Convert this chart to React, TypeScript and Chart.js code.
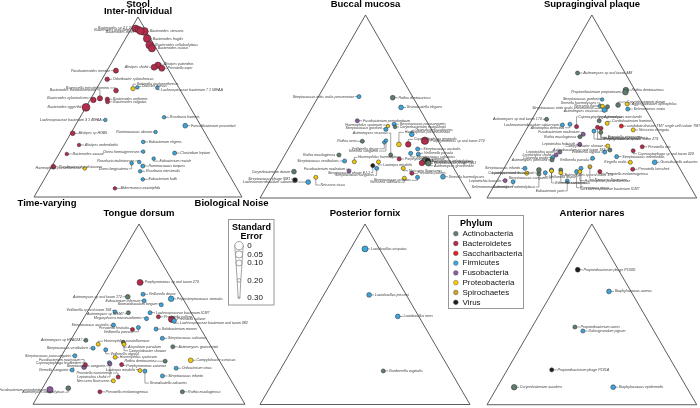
import React, { useEffect, useRef } from "react";
import { Chart, registerables } from "chart.js";

Chart.register(...registerables);

const FONT = "'Liberation Sans', Arial, Helvetica, sans-serif";

// ---------- categories / legend ----------
const PHYLA = ["Actinobacteria", "Bacteroidetes", "Saccharibacteria", "Firmicutes", "Fusobacteria", "Proteobacteria", "Spirochaetes", "Virus"];
const PHYLUM_COLORS = ["#5f7d6c", "#b52b4b", "#e41f26", "#3ba6dc", "#8b5b9c", "#f3c90a", "#c9a12c", "#1f1f1f"];
const SE_TICKS = [0, 0.05, 0.1, 0.2, 0.3];
const SE_TICK_LABELS = ["0", "0.05", "0.10", "0.20", "0.30"];
const PANEL_TITLES = ["Stool", "Buccal mucosa", "Supragingival plaque", "Tongue dorsum", "Posterior fornix", "Anterior nares"];
const VERTEX_TITLES = ["Inter-individual", "Time-varying", "Biological Noise"];

// phylum index: 0 Actino, 1 Bacteroidetes, 2 Saccharibacteria, 3 Firmicutes, 4 Fusobacteria, 5 Proteobacteria, 6 Spirochaetes, 7 Virus
// values: % inter-individual, % biological noise (time-varying = remainder), standard error

// ---------- Stool ----------
const stoolTaxa = ["Bacteroides stercoris", "Bacteroides sp 2 1 22", "Bacteroides massiliensis", "Bacteroides dorei", "Bacteroides fragilis", "Bacteroides cellulosilyticus", "Bacteroides ovatus", "Alistipes putredinis", "Alistipes shahii", "Prevotella copri", "Parabacteroides merdae", "Odoribacter splanchnicus", "Sutterella wadsworthensis", "Dialister invisus", "Lachnospiraceae bacterium 7 1 58FAA", "Barnesiella intestinihominis", "Bacteroides thetaiotaomicron", "Bacteroides uniformis", "Bacteroides vulgatus", "Bacteroides xylanisolvens", "Bacteroides eggerthii", "Lachnospiraceae bacterium 3 1 46FAA", "Roseburia hominis", "Faecalibacterium prausnitzii", "Alistipes sp HGB5", "Ruminococcus obeum", "Alistipes onderdonkii", "Eubacterium eligens", "Bacteroides caccae", "Dorea formicigenerans", "Clostridium leptum", "Eubacterium rectale", "Roseburia inulinivorans", "Ruminococcus torques", "Dorea longicatena", "Roseburia intestinalis", "Parabacteroides distasonis", "Haemophilus parainfluenzae", "Eubacterium hallii", "Akkermansia muciniphila"];
const stoolPhylum = [1, 1, 1, 1, 1, 1, 1, 1, 1, 1, 1, 1, 5, 3, 3, 1, 1, 1, 1, 1, 1, 3, 3, 3, 1, 3, 1, 3, 1, 3, 3, 3, 3, 3, 3, 3, 1, 5, 3, 1];
const stoolInter = [92, 93.6, 93, 92.2, 88, 84.4, 82.6, 73.2, 72.1, 71.5, 70.2, 65.4, 60.2, 60.9, 60.7, 59.1, 54.8, 54.3, 52.9, 53.9, 49.8, 42.8, 44.3, 39.6, 35.4, 36.1, 28.9, 30.6, 23.9, 25.2, 24.4, 21.3, 19.4, 17.2, 18.7, 14.3, 16.8, 15.9, 9.8, 4.8];
const stoolNoise = [7, 2, 3.7, 5.1, 10.4, 13.4, 15.4, 23, 21.7, 25.7, 4.3, 2.5, 17.5, 19.2, 28.9, 9.9, 4.3, 8.1, 8.9, 1.6, 0.1, 12.9, 40.4, 52.9, 0.9, 40.4, 7.2, 37.2, 3.8, 39.9, 55.4, 46.9, 40.9, 43.7, 37.6, 43.9, 0.9, 16.5, 47.4, 36.5];
const stoolSE = [0.02, 0.06, 0.08, 0.05, 0.03, 0.03, 0.05, 0.08, 0.1, 0.1, 0.14, 0.16, 0.17, 0.2, 0.2, 0.15, 0.13, 0.17, 0.18, 0.12, 0.02, 0.2, 0.2, 0.15, 0.15, 0.2, 0.2, 0.2, 0.2, 0.2, 0.18, 0.2, 0.2, 0.18, 0.2, 0.2, 0.15, 0.2, 0.2, 0.2];

// ---------- Buccal mucosa ----------
const buccalTaxa = ["Streptococcus mitis oralis pneumoniae", "Rothia dentocariosa", "Granulicatella elegans", "Fusobacterium periodonticum", "Streptococcus parasanguinis", "Corynebacterium matruchotii", "Haemophilus sputorum", "Streptococcus gordonii", "Actinomyces viscosus", "Rothia aeria", "Veillonella dispar", "Gemella sanguinis", "Granulicatella adiacens", "Haemophilus parainfluenzae", "Capnocytophaga gingivalis", "Porphyromonas sp oral taxon 279", "Streptococcus australis", "Streptococcus salivarius", "Veillonella parvula", "Actinomyces odontolyticus", "Prevotella melaninogenica", "Streptococcus phage Cp-1", "Actinomyces graevenitzii", "Haemophilus haemolyticus", "Porphyromonas catoniae", "Rothia mucilaginosa", "Streptococcus vestibularis", "Lautropia mirabilis", "Neisseria flavescens", "Prevotella pallens", "Fusobacterium nucleatum", "Streptococcus phage EJ-1", "Streptococcus sanguinis", "Corynebacterium durum", "Streptococcus phage SM1", "Lachnoanaerobaculum saburreum", "Neisseria sicca", "Neisseria subflava", "Streptococcus cristatus", "Gemella haemolysans"];
const buccalPhylum = [3, 0, 3, 4, 3, 0, 5, 3, 0, 0, 3, 3, 3, 5, 1, 1, 3, 3, 3, 0, 1, 7, 0, 5, 1, 0, 3, 5, 5, 1, 4, 7, 3, 0, 7, 3, 5, 5, 3, 3];
const buccalInter = [55.4, 54.8, 49.5, 42.2, 40.3, 38.8, 39.3, 37.5, 23.5, 31, 30.4, 31.4, 34.8, 29.3, 29.3, 31.3, 26.8, 24.4, 23.9, 20.4, 19.1, 20.2, 19, 19.8, 21.3, 23.5, 20.2, 19.7, 16.2, 13.5, 14.8, 17.7, 16.2, 14.4, 9.8, 8.7, 11.3, 10.8, 11.3, 11.6];
const buccalNoise = [19.2, 35.5, 42.1, 25, 43.4, 44.6, 41, 40.9, 50.2, 33, 43.7, 44, 54.5, 51.2, 55.6, 62.5, 61.3, 59.2, 63.1, 68.1, 67.2, 69.5, 70.3, 34.8, 55.3, 25.7, 30, 46.3, 59.8, 65.2, 34.8, 44.6, 47.2, 8.9, 11.7, 18.5, 20.8, 63, 69, 80.9];
const buccalSE = [0.18, 0.15, 0.15, 0.18, 0.18, 0.2, 0.2, 0.18, 0.18, 0.18, 0.2, 0.2, 0.15, 0.15, 0.12, 0.04, 0.18, 0.18, 0.18, 0.06, 0.12, 0.12, 0.12, 0.18, 0.18, 0.18, 0.18, 0.18, 0.18, 0.18, 0.18, 0.18, 0.18, 0.15, 0.15, 0.15, 0.18, 0.18, 0.18, 0.15];

// ---------- Supragingival plaque ----------
const supraTaxa = ["Actinomyces sp oral taxon 448", "Rothia dentocariosa", "Propionibacterium propionicum", "Streptococcus gordonii", "Gemella haemolysans", "Neisseria flava", "Streptococcus mitis oralis pneumoniae", "Actinomyces viscosus", "Corynebacterium durum", "Aggregatibacter aphrophilus", "Selenomonas noxia", "Actinomyces sp oral taxon 170", "Lachnoanaerobaculum saburreum", "Abiotrophia defectiva", "Capnocytophaga granulosa", "Actinomyces naeslundii", "Cardiobacterium hominis", "Porphyromonas sp oral taxon 279", "Prevotella nigrescens", "candidate division TM7 single cell isolate TM7c", "Neisseria elongata", "Fusobacterium nucleatum", "Rothia mucilaginosa", "Streptococcus cristatus", "Actinomyces massiliensis", "Prevotella oris", "Capnocytophaga sp oral taxon 329", "Streptococcus intermedius", "Kingella oralis", "Granulicatella adiacens", "Prevotella loescheii", "Leptotrichia hofstadii", "Actinobaculum sp oral taxon 183", "Leptotrichia wadei", "Leptotrichia shahii", "Catonella morbi", "Actinomyces johnsonii", "Streptococcus infantis", "Lautropia mirabilis", "Leptotrichia buccalis", "Selenomonas artemidis", "Veillonella parvula", "Actinomyces odontolyticus", "Corynebacterium matruchotii", "Streptococcus sanguinis", "Eikenella corrodens", "Veillonella dispar", "Actinomyces sp oral taxon 175", "Neisseria sicca", "Eubacterium yurii", "Parvimonas micra", "Lachnospiraceae bacterium ICM7", "Haemophilus parainfluenzae", "Neisseria flavescens", "Prevotella melaninogenica", "Campylobacter showae", "Veillonella atypica"];
const supraPhylum = [0, 0, 0, 3, 3, 5, 3, 0, 0, 5, 3, 0, 3, 3, 1, 0, 5, 1, 1, 2, 5, 4, 0, 3, 0, 1, 1, 3, 5, 3, 1, 4, 0, 4, 4, 3, 0, 3, 5, 4, 3, 3, 0, 0, 3, 5, 3, 0, 5, 3, 3, 3, 5, 6, 1, 5, 3];
const supraInter = [68.3, 59, 57.8, 53.8, 50.3, 50.1, 48.1, 49.9, 50.8, 51.4, 48.6, 43, 39.9, 40.3, 39, 42.2, 40.8, 38.6, 38.1, 39.3, 37.2, 34.8, 33.5, 36.6, 35.9, 28, 25.8, 22.6, 19.5, 19.5, 15.7, 29.3, 26.2, 25.1, 23.5, 22.1, 20.8, 16.2, 13.5, 9.5, 8.9, 21.7, 13.1, 15.3, 15.3, 14.8, 13.8, 15.3, 13.8, 9.3, 14.4, 16.2, 14.4, 17.1, 14.4, 28.4, 25.1];
const supraNoise = [9, 36.7, 37.1, 28, 28.7, 30, 31.9, 32.5, 37.1, 41.1, 42.8, 6.9, 16, 19.4, 23.2, 32.4, 36.9, 33.4, 35.3, 44.4, 51.1, 28.5, 27.6, 32.7, 36.3, 60, 56.8, 50.5, 58.6, 70.2, 61.6, 29.6, 45.5, 22.2, 21.2, 20.3, 20.6, 10, 12.2, 3.9, 8, 39.5, 18.2, 17.1, 23.1, 23.4, 20.9, 27.5, 28.3, 33.6, 35.5, 36.7, 37.1, 40.5, 46.6, 43.4, 43.6];
const supraSE = [0.18, 0.12, 0.12, 0.2, 0.2, 0.18, 0.15, 0.18, 0.15, 0.18, 0.18, 0.18, 0.18, 0.18, 0.18, 0.18, 0.18, 0.18, 0.18, 0.18, 0.18, 0.18, 0.18, 0.18, 0.18, 0.18, 0.18, 0.18, 0.18, 0.15, 0.18, 0.18, 0.18, 0.18, 0.18, 0.18, 0.18, 0.18, 0.18, 0.18, 0.18, 0.18, 0.18, 0.15, 0.18, 0.18, 0.18, 0.18, 0.18, 0.18, 0.18, 0.18, 0.18, 0.18, 0.18, 0.18, 0.18];

// ---------- Tongue dorsum ----------
const tongueTaxa = ["Porphyromonas sp oral taxon 279", "Veillonella dispar", "Peptostreptococcus stomatis", "Actinomyces sp oral taxon 172", "Eubacterium infirmum", "Stomatobaculum longum", "Veillonella sp oral taxon 158", "Actinomyces sp ICM47", "Megasphaera micronuciformis", "Lachnospiraceae bacterium ICM7", "Prevotella pallens", "Prevotella salivae", "Lachnospiraceae bacterium oral taxon 082", "Streptococcus australis", "Prevotella histicola", "Veillonella parvula", "Solobacterium moorei", "Actinomyces sp HPA0247", "Streptococcus salivarius", "Haemophilus parainfluenzae", "Atopobium parvulum", "Campylobacter showae", "Streptococcus vestibularis", "Actinomyces graevenitzii", "Veillonella atypica", "Haemophilus sputorum", "Rothia dentocariosa", "Campylobacter concisus", "Streptococcus parasanguinis", "Fusobacterium nucleatum", "Capnocytophaga leadbetteri", "Gemella sanguinis", "Streptococcus sanguinis", "Leptotrichia shahii", "Porphyromonas catoniae", "Lautropia mirabilis", "Granulicatella adiacens", "Oribacterium sinus", "Prevotella nanceiensis", "Streptococcus infantis", "Neisseria flavescens", "Fusobacterium periodonticum", "Actinomyces odontolyticus", "Prevotella melaninogenica", "Rothia mucilaginosa"];
const tonguePhylum = [1, 3, 3, 0, 3, 3, 3, 0, 3, 3, 1, 1, 3, 3, 1, 3, 3, 0, 3, 5, 0, 5, 3, 0, 3, 5, 0, 5, 3, 4, 1, 3, 3, 4, 1, 5, 3, 3, 1, 3, 5, 4, 0, 1, 0];
const tongueInter = [67.6, 61, 58.5, 59.6, 57.4, 55.2, 51.2, 50.8, 47.5, 50.8, 48.5, 47.2, 46.3, 43.9, 41.5, 42.6, 41.7, 35.5, 36.6, 33.3, 34.4, 33.3, 31.1, 31.9, 30.2, 26.1, 23.9, 24.4, 26.9, 20.6, 21.9, 19, 23, 22.4, 22, 18.7, 18.4, 20, 15.1, 15.7, 13, 8, 8.9, 6.9, 6.9];
const tongueNoise = [16.7, 21.4, 35.9, 14.9, 23.7, 32.9, 13.1, 19.6, 29.8, 29.8, 34.9, 41.8, 43.4, 16, 26.2, 28.4, 37.2, 7.2, 42.7, 14.1, 25.4, 26.3, 12.8, 50, 19.2, 25.7, 50.4, 62.2, 6.3, 13.8, 13.8, 9, 24.5, 25.1, 30.8, 41.1, 43.6, 57.5, 32.6, 53.2, 31.4, 4, 12.2, 28.1, 67];
const tongueSE = [0.1, 0.18, 0.12, 0.15, 0.18, 0.18, 0.18, 0.18, 0.18, 0.18, 0.18, 0.08, 0.15, 0.18, 0.18, 0.18, 0.18, 0.18, 0.18, 0.18, 0.18, 0.18, 0.18, 0.18, 0.18, 0.18, 0.18, 0.15, 0.18, 0.15, 0.18, 0.18, 0.18, 0.18, 0.18, 0.18, 0.18, 0.18, 0.18, 0.18, 0.18, 0.08, 0.15, 0.18, 0.18];

// ---------- Posterior fornix ----------
const fornixTaxa = ["Lactobacillus crispatus", "Lactobacillus jensenii", "Lactobacillus iners", "Gardnerella vaginalis"];
const fornixPhylum = [3, 3, 3, 0];
const fornixInter = [86.2, 60.7, 48.8, 18.6];
const fornixNoise = [6.9, 21.6, 41.2, 49.4];
const fornixSE = [0.1, 0.15, 0.15, 0.18];

// ---------- Anterior nares ----------
const naresTaxa = ["Propionibacterium phage P100D", "Staphylococcus aureus", "Propionibacterium acnes", "Dolosigranulum pigrum", "Propionibacterium phage P101A", "Corynebacterium accolens", "Staphylococcus epidermidis"];
const naresPhylum = [7, 3, 0, 3, 7, 0, 3];
const naresInter = [74.7, 62.7, 43, 40.8, 19.3, 9.7, 9.7];
const naresNoise = [5.9, 26.8, 20.4, 25.3, 21.2, 8.1, 55.3];
const naresSE = [0.15, 0.15, 0.18, 0.18, 0.18, 0.12, 0.15];

// ---------- layout (label offsets in px, panel frames) ----------
const stoolLabelOffsets = [[5, 0], [-2, -0.5], [-4, 0], [-6, 0.5], [5, 0], [5, 0], [5, 0], [5, -1], [-5, 0], [5, 0], [-5, 0], [5, 0], [3, -4.5], [4, -1], [3, 2], [-6, -2.7], [-3, -8.6], [5, 0], [5, 0], [-4, -2.3], [-4, 0], [-3, 0], [5, 0], [5, 0], [5, 0], [-3, 0], [5, 0], [5, 0], [5, 0], [-3, 0], [5, 0], [5, 2.5], [-4, -1.3], [5, 0], [-3, 5.5], [5, 0], [5, 0], [-3, 0], [5, 0], [5, 0]];
const buccalLabelOffsets = [[-4, 0], [5, 0], [5, 0], [5, 0], [5, 0], [4, 0], [-5, -1], [-3, -1], [-2, -22], [-5, 0], [-5, 6.4], [-7, 10.5], [3, -4], [5, -12], [5, -5], [5, 0], [5, 0], [5, 3.5], [5, -1], [5, 0], [9, -1], [5, 2.3], [5, 2.5], [3, -4.4], [5, 0], [-3, 0], [-5, 0], [4, 3], [5, 2.4], [5, 0], [-3, -1.7], [-2, 7], [-2, 7], [-3, 0], [-4, -1], [-10, 0], [4, 7.7], [-4, 4], [-6, 3], [5, 0]];
const supraLabelOffsets = [[5, 0], [5, 0], [-4, 0], [-2, -0.5], [-3, -3], [-4, 0], [-10, -1.5], [-8, 4.5], [8, -3], [4, 0], [5, 0], [-4, 0], [-3, 0], [-5, 3.5], [1, -10], [4, -4], [4, -2], [6, 12], [6, 9], [5, 0], [5, 0], [-3, -2], [-3, 0], [8, 8], [6, 6], [5, 0], [4, 3], [5, 0], [-3, 0], [5, 0], [5, 0], [-4, 0], [-4, 0], [-4, 0], [-4, 0], [-4, 0], [-4, 0], [-4, 0], [-5, 0], [-3, 0], [-3, 5], [-3, 1.5], [-3, 13], [-4, 3], [-3, 8], [3, 12], [3, 4], [3, 5], [4, 10], [-3, 10], [3, 16], [4, 21], [4, 9], [4, 13], [5, 2], [-4, 0], [-4, 0]];
const tongueLabelOffsets = [[4, 0], [5, 0], [5, 0], [-5, 0], [-3, 0], [-3, -1], [-3, -1.5], [-4, 1], [-4, -1], [5, 0], [5, 0], [5, 0], [5, 2.4], [-4, 0], [-3, -1], [-5, 4.3], [5, 0], [-3, 0], [5, 0], [5, -3], [4, 5], [4, 6.5], [-4, 0], [5, 0], [4, 4], [4, 0], [-8, 0], [5, 0], [-3, 0], [-3, -7.6], [-4, -2], [-3, 0], [-3, 3], [-3, 13], [4, 1], [-4, -1], [4, 12], [5, 0], [-5, -4], [5, 0], [-3, 0], [-3, 0], [-3, 4], [5, 0], [5, 0]];
const fornixLabelOffsets = [[5, 0], [5, 0], [5, 0], [5, 0]];
const naresLabelOffsets = [[5, 0], [5, 0], [5, 0], [5, 0], [5, 0], [5, 0], [5, 0]];

const panelFrames = [
  { left: 34, top: 17, width: 208, bottom: 197, titleY: 4 },
  { left: 260, top: 15, width: 211, bottom: 198, titleY: 4.5 },
  { left: 487, top: 15, width: 210, bottom: 198, titleY: 4.5 },
  { left: 33, top: 224, width: 212, bottom: 407, titleY: 213.5 },
  { left: 260, top: 224, width: 210, bottom: 407, titleY: 213 },
  { left: 487, top: 224, width: 210, bottom: 407, titleY: 213 },
];

const TRIANGLE = [{ x: 0, y: 0 }, { x: 1, y: 0 }, { x: 0.5, y: 1 }, { x: 0, y: 0 }];

type Panel = { taxa: string[]; phylum: number[]; inter: number[]; noise: number[]; se: number[]; offsets: number[][] };

const PANELS: Panel[] = [
  { taxa: stoolTaxa, phylum: stoolPhylum, inter: stoolInter, noise: stoolNoise, se: stoolSE, offsets: stoolLabelOffsets },
  { taxa: buccalTaxa, phylum: buccalPhylum, inter: buccalInter, noise: buccalNoise, se: buccalSE, offsets: buccalLabelOffsets },
  { taxa: supraTaxa, phylum: supraPhylum, inter: supraInter, noise: supraNoise, se: supraSE, offsets: supraLabelOffsets },
  { taxa: tongueTaxa, phylum: tonguePhylum, inter: tongueInter, noise: tongueNoise, se: tongueSE, offsets: tongueLabelOffsets },
  { taxa: fornixTaxa, phylum: fornixPhylum, inter: fornixInter, noise: fornixNoise, se: fornixSE, offsets: fornixLabelOffsets },
  { taxa: naresTaxa, phylum: naresPhylum, inter: naresInter, noise: naresNoise, se: naresSE, offsets: naresLabelOffsets },
];

function seRadius(se: number) {
  return Math.max(0.9, 4.2 - 12 * se);
}

function labelPlugin(p: Panel) {
  return {
    id: "taxonLabels",
    beforeDatasetsDraw(chart: any) {
      const ctx = chart.ctx;
      const meta = chart.getDatasetMeta(0);
      ctx.save();
      ctx.strokeStyle = "#333";
      ctx.lineWidth = 0.45;
      meta.data.forEach((el: any, i: number) => {
        const [dx, dy] = p.offsets[i] || [5, 0];
        ctx.beginPath();
        ctx.moveTo(el.x, el.y);
        if (Math.abs(dy) > 0.01) ctx.lineTo(el.x, el.y + dy);
        ctx.lineTo(el.x + dx, el.y + dy);
        ctx.stroke();
      });
      ctx.restore();
    },
    afterDatasetsDraw(chart: any) {
      const ctx = chart.ctx;
      const meta = chart.getDatasetMeta(0);
      ctx.save();
      ctx.fillStyle = "#3a3a3a";
      ctx.font = `italic 3.6px ${FONT}`;
      ctx.textBaseline = "middle";
      meta.data.forEach((el: any, i: number) => {
        const [dx, dy] = p.offsets[i] || [5, 0];
        const right = dx >= 0;
        ctx.textAlign = right ? "left" : "right";
        ctx.fillText(p.taxa[i], el.x + dx + (right ? 0.7 : -0.7), el.y + dy);
      });
      ctx.restore();
    },
  };
}

const decorPlugin = {
  id: "decor",
  afterDraw(chart: any) {
    const ctx = chart.ctx;
    ctx.save();
    ctx.fillStyle = "#000";
    ctx.textAlign = "center";
    ctx.textBaseline = "middle";
    ctx.font = `bold 9.5px ${FONT}`;
    PANEL_TITLES.forEach((t, i) => {
      const f = panelFrames[i];
      ctx.fillText(t, f.left + f.width / 2, f.titleY);
    });
    ctx.fillText(VERTEX_TITLES[0], 138, 11.4);
    ctx.fillText(VERTEX_TITLES[1], 47, 203.3);
    ctx.fillText(VERTEX_TITLES[2], 231.5, 203.3);

    // Standard error legend
    ctx.strokeStyle = "#999";
    ctx.lineWidth = 1;
    ctx.strokeRect(228.5, 219.5, 45.5, 85.5);
    ctx.font = `bold 9px ${FONT}`;
    ctx.fillText("Standard", 251.5, 227.5);
    ctx.fillText("Error", 251.5, 236.5);
    const gx = 239;
    const yOf = (se: number) => 245.7 + (se / 0.3) * 52;
    ctx.beginPath();
    SE_TICKS.forEach((s) => ctx.lineTo(gx - seRadius(s), yOf(s)));
    [...SE_TICKS].reverse().forEach((s) => ctx.lineTo(gx + seRadius(s), yOf(s)));
    ctx.closePath();
    ctx.fillStyle = "#fff";
    ctx.fill();
    ctx.strokeStyle = "#666";
    ctx.lineWidth = 0.6;
    ctx.stroke();
    SE_TICKS.forEach((s) => {
      ctx.beginPath();
      ctx.arc(gx, yOf(s), seRadius(s), 0, Math.PI * 2);
      ctx.fillStyle = "#fff";
      ctx.fill();
      ctx.stroke();
    });
    ctx.fillStyle = "#111";
    ctx.font = `8px ${FONT}`;
    ctx.textAlign = "left";
    SE_TICK_LABELS.forEach((t, i) => ctx.fillText(t, 247.3, yOf(SE_TICKS[i])));

    // Phylum legend
    ctx.strokeStyle = "#999";
    ctx.lineWidth = 1;
    ctx.strokeRect(448.5, 215.5, 75, 93);
    ctx.font = `bold 9px ${FONT}`;
    ctx.fillStyle = "#000";
    ctx.fillText("Phylum", 460, 223.3);
    ctx.font = `8px ${FONT}`;
    PHYLA.forEach((name, i) => {
      const y = 233.7 + i * 9.8;
      ctx.beginPath();
      ctx.arc(455.8, y, 2.4, 0, Math.PI * 2);
      ctx.fillStyle = PHYLUM_COLORS[i];
      ctx.fill();
      ctx.strokeStyle = "#555";
      ctx.lineWidth = 0.4;
      ctx.stroke();
      ctx.fillStyle = "#111";
      ctx.fillText(name, 462.5, y);
    });
    ctx.restore();
  },
};

function buildConfig(p: Panel, frameIndex: number, withDecor: boolean): any {
  const f = panelFrames[frameIndex];
  const pts = p.inter.map((v, i) => ({ x: (p.noise[i] + v / 2) / 100, y: v / 100 }));
  const radii = p.se.map(seRadius);
  return {
    type: "scatter",
    data: {
      datasets: [
        {
          data: pts,
          backgroundColor: p.phylum.map((k) => PHYLUM_COLORS[k]),
          pointBackgroundColor: p.phylum.map((k) => PHYLUM_COLORS[k]),
          pointBorderColor: "#262626",
          pointBorderWidth: 0.5,
          pointRadius: radii,
          pointHoverRadius: radii,
          clip: false,
          order: 1,
        },
        {
          data: TRIANGLE,
          showLine: true,
          borderColor: "#4a4a4a",
          borderWidth: 0.9,
          pointRadius: 0,
          fill: false,
          clip: false,
          order: 2,
        },
      ],
    },
    options: {
      responsive: false,
      maintainAspectRatio: false,
      animation: false,
      events: [],
      layout: {
        padding: { left: f.left, right: 700 - f.left - f.width, top: f.top, bottom: 408 - f.bottom },
      },
      scales: {
        x: { type: "linear", min: 0, max: 1, display: false },
        y: { type: "linear", min: 0, max: 1, display: false },
      },
      plugins: { legend: { display: false }, tooltip: { enabled: false }, title: { display: false } },
    },
    plugins: withDecor ? [labelPlugin(p), decorPlugin] : [labelPlugin(p)],
  };
}

export default function App() {
  const refs = useRef<(HTMLCanvasElement | null)[]>([]);
  useEffect(() => {
    document.body.style.margin = "0";
    const charts = PANELS.map((p, i) => new Chart(refs.current[i] as HTMLCanvasElement, buildConfig(p, i, i === PANELS.length - 1)));
    return () => charts.forEach((c) => c.destroy());
  }, []);
  return (
    <div style={{ position: "absolute", left: 0, top: 0, width: 700, height: 408, background: "#fff" }}>
      {PANELS.map((_, i) => (
        <canvas
          key={i}
          ref={(el) => {
            refs.current[i] = el;
          }}
          width={700}
          height={408}
          style={{ position: "absolute", left: 0, top: 0, width: 700, height: 408 }}
        />
      ))}
    </div>
  );
}
